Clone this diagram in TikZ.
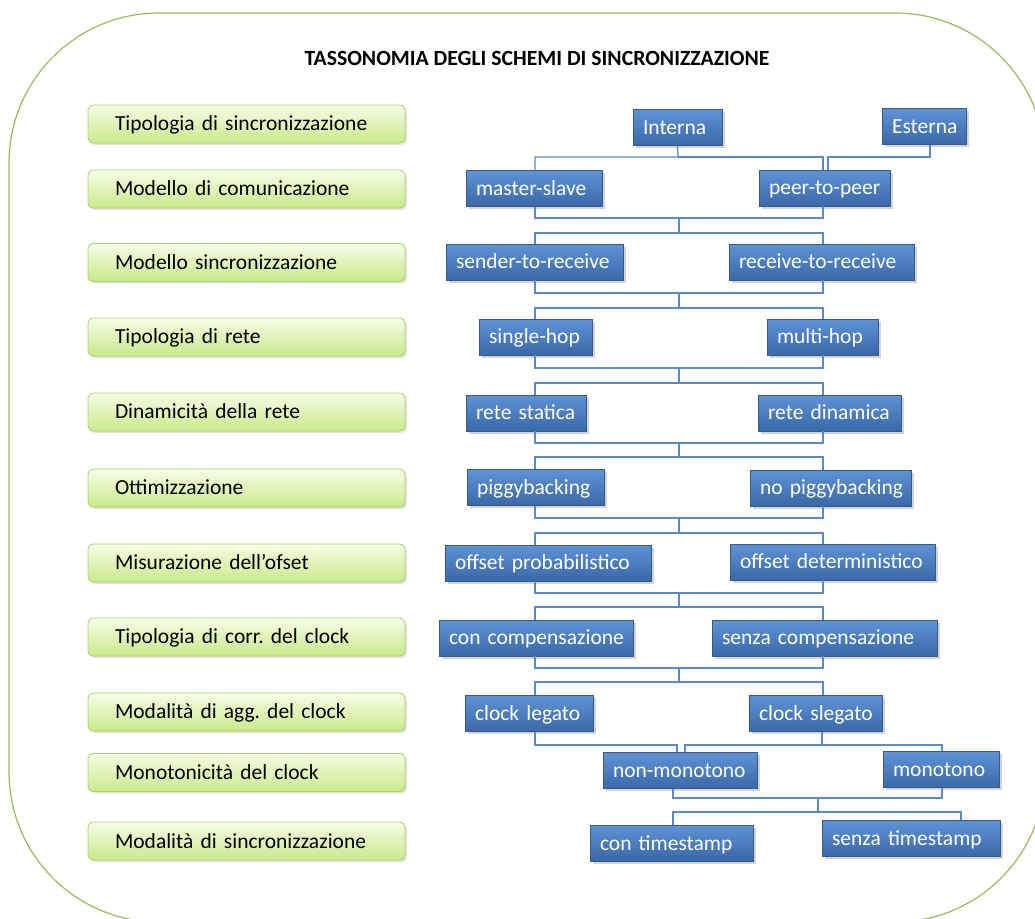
\documentclass[tikz,border=0pt]{standalone}
\usepackage{fontspec}
\setmainfont{Carlito}
\usetikzlibrary{shadows}
\definecolor{frame}{HTML}{9BBB59}
\definecolor{greentop}{HTML}{F7FCE6}
\definecolor{greenbot}{HTML}{C9EA8A}
\definecolor{greenedge}{HTML}{A9CF6E}
\definecolor{bluetop}{HTML}{5E93D6}
\definecolor{bluebot}{HTML}{3A68A8}
\definecolor{blueedge}{HTML}{365A8A}
\definecolor{connblue}{HTML}{5B8AC8}
\newcommand{\boxstrut}{\rule[-0.25em]{0pt}{1.15em}}
\begin{document}
\frenchspacing
\begin{tikzpicture}[x=1pt,y=-1pt,
  conn/.style={draw=connblue, line width=1.3pt},
  cat/.style={draw=greenedge, line width=0.8pt, rounded corners=5pt,
    top color=greentop, bottom color=greenbot,
    minimum height=38pt, text width=317pt, inner xsep=0pt, inner ysep=0pt,
    align=left, font=\fontsize{21.5}{24}\selectfont,
    execute at begin node={\hspace*{27pt}\boxstrut},
    drop shadow={shadow xshift=2pt, shadow yshift=-2pt, opacity=0.22}},
  item/.style={draw=blueedge, line width=0.8pt,
    top color=bluetop, bottom color=bluebot, text=white,
    minimum height=36pt, text width=#1, inner xsep=0pt, inner ysep=0pt,
    align=left, font=\fontsize{21.5}{24}\selectfont,
    execute at begin node={\hspace*{10pt}\boxstrut},
    drop shadow={shadow xshift=2.5pt, shadow yshift=-2.5pt, opacity=0.35}}
]
\useasboundingbox (0,0) rectangle (1035,918);

% outer frame
\draw[frame, line width=1.2pt, rounded corners=150pt] (9,13) rectangle (1045,922);

% title
\node[font=\bfseries\fontsize{21.7}{26}\selectfont] (title) at (537,58)
  {TASSONOMIA DEGLI SCHEMI DI SINCRONIZZAZIONE};

% criteria column
\node[cat] (c1)  at (246.5,124)   {Tipologia di sincronizzazione};
\node[cat] (c2)  at (246.5,189)   {Modello di comunicazione};
\node[cat] (c3)  at (246.5,262.5) {Modello sincronizzazione};
\node[cat] (c4)  at (246.5,337)   {Tipologia di rete};
\node[cat] (c5)  at (246.5,412)   {Dinamicità della rete};
\node[cat] (c6)  at (246.5,488)   {Ottimizzazione};
\node[cat] (c7)  at (246.5,563)   {Misurazione dell’ofset};
\node[cat] (c8)  at (246.5,637)   {Tipologia di corr. del clock};
\node[cat] (c9)  at (246.5,712)   {Modalità di agg. del clock};
\node[cat] (c10) at (246.5,772.5) {Monotonicità del clock};
\node[cat] (c11) at (246.5,841)   {Modalità di sincronizzazione};

% classes
\node[item=89pt]  (int) at (677.5,127.5) {Interna};
\node[item=84pt]  (est) at (924,126.5)   {Esterna};
\node[item=136pt] (ms)  at (534,188.5)   {master-slave};
\node[item=131pt] (pp)  at (824.5,188)   {peer-to-peer};
\node[item=177pt] (sr)  at (534.5,262)   {sender-to-receive};
\node[item=185pt] (rr)  at (821.5,262)   {receive-to-receive};
\node[item=113pt] (sh)  at (535.5,337)   {single-hop};
\node[item=111pt] (mh)  at (822.5,337)   {multi-hop};
\node[item=120pt] (rs)  at (526,413)     {rete statica};
\node[item=143pt] (rd)  at (829.5,413)   {rete dinamica};
\node[item=137pt] (pb)  at (535.5,487.5) {piggybacking};
\node[item=161pt] (npb) at (830.5,488)   {no piggybacking};
\node[item=206pt] (op)  at (548,563)     {offset probabilistico};
\node[item=205pt] (od)  at (832.5,562)   {offset deterministico};
\node[item=194pt] (cc)  at (536,638)     {con compensazione};
\node[item=225pt] (sc)  at (824.5,638)   {senza compensazione};
\node[item=128pt] (cl)  at (529,713.5)   {clock legato};
\node[item=133pt] (cs)  at (815.5,713.5) {clock slegato};
\node[item=154pt] (nm)  at (680,770.5)   {non-monotono};
\node[item=116pt] (mo)  at (941,769.5)   {monotono};
\node[item=163pt] (ct)  at (671.5,843)   {con timestamp};
\node[item=178pt] (st)  at (911,838.5)   {senza timestamp};

% first level: Interna and Esterna
\coordinate (i0) at (678,157);
\draw[conn] (int.south) -- (i0) -| (ms.north -| 535,0);
\draw[conn] (i0) -| (pp.north -| 823,0);
\draw[conn] (est.south -| 930,0) |- (828,157) -- (pp.north -| 828,0);

% regular levels: pair above joined, pair below split
\foreach \a/\b/\c/\d/\ya/\yb in {ms/pp/sr/rr/218/233, sr/rr/sh/mh/293/308,
    sh/mh/rs/rd/368/383, rs/rd/pb/npb/443/457, pb/npb/op/od/518/533,
    op/od/cc/sc/593/607, cc/sc/cl/cs/668/682}{
  \coordinate (ja) at (679,\ya);
  \coordinate (jb) at (679,\yb);
  \draw[conn] (\a.south -| 535,0) |- (ja) -| (\b.south -| 823,0);
  \draw[conn] (ja) -- (jb);
  \draw[conn] (\c.north -| 535,0) |- (jb) -| (\d.north -| 823,0);
}

% clock legato / slegato towards monotonicity
\draw[conn] (cl.south -| 535,0) |- (677,745) -- (nm.north -| 677,0);
\draw[conn] (cs.south -| 822,0) -- (822,745);
\draw[conn] (nm.north -| 685,0) |- (942,745) -- (mo.north -| 942,0);

% monotonicity towards timestamping
\coordinate (ka) at (818,798);
\coordinate (kb) at (818,812);
\draw[conn] (nm.south -| 673,0) |- (ka) -| (mo.south -| 942,0);
\draw[conn] (ka) -- (kb);
\draw[conn] (ct.north -| 673,0) |- (kb) -| (st.north -| 961,0);
\end{tikzpicture}
\end{document}
